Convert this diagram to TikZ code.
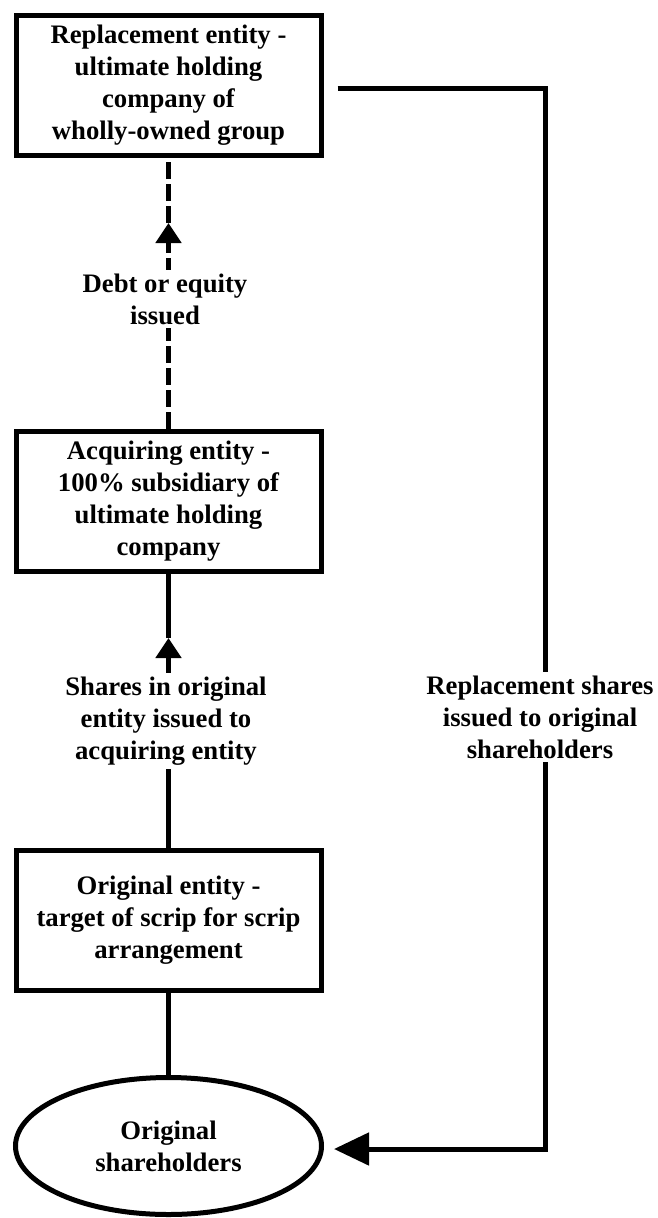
\documentclass[tikz,border=0pt]{standalone}
\usepackage{fontspec}
\setmainfont{Liberation Serif}
\usetikzlibrary{arrows.meta,shapes.geometric}
\begin{document}
\begin{tikzpicture}[x=1pt,y=-1pt,
  txt/.style={font=\fontsize{26.7}{32}\selectfont\bfseries, align=center},
  box/.style={txt, draw, line width=5pt, minimum width=305pt, minimum height=140pt, inner sep=0pt},
  oval/.style={txt, draw, ellipse, line width=5pt, minimum width=306pt, minimum height=137pt, inner sep=0pt},
  conn/.style={line width=5pt},
  dashconn/.style={conn, dash pattern=on 17pt off 5pt},
  lbl/.style={txt, fill=white, inner sep=4pt},
  smalltip/.style={-{Triangle[length=20pt,width=25pt]}},
  bigtip/.style={-{Triangle[length=35pt,width=32pt]}}]
\useasboundingbox (0,0) rectangle (657,1218);

\node[box] (b1) at (168.5,85) {Replacement entity -\\ultimate holding\\company of\\wholly-owned group};
\node[box] (b2) at (168.5,501) {Acquiring entity -\\100\% subsidiary of\\ultimate holding\\company};
\node[box] (b3) at (168.5,920) {Original entity -\\target of scrip for scrip\\arrangement};
\node[oval] (el) at (168.5,1146) {Original\\shareholders};

\coordinate (t1) at (168.5,223);
\coordinate (t2) at (168.5,638);
\coordinate (c1) at (545,88);
\coordinate (c2) at (545,1149);

% dashed connector with arrow
\draw[dashconn, smalltip] (b2.north) -- (t1);
\draw[dashconn] (t1) -- (b1.south);
% solid connector with arrow
\draw[conn, smalltip] (b3.north) -- (t2);
\draw[conn] (t2) -- (b2.south);
% original entity to shareholders
\draw[conn] (b3.south) -- (el.north);
% right connector
\draw[conn, bigtip, shorten <=14pt, shorten >=10pt] (b1.east |- c1) -- (c1) -- (c2) -- (el.east |- c2);

\node[lbl] (l1) at (165,299) {Debt or equity\\issued};
\node[lbl] (l2) at (166,721) {Shares in original\\entity issued to\\acquiring entity};
\node[lbl] (l3) at (540,717) {Replacement shares\\issued to original\\shareholders};
\end{tikzpicture}
\end{document}
